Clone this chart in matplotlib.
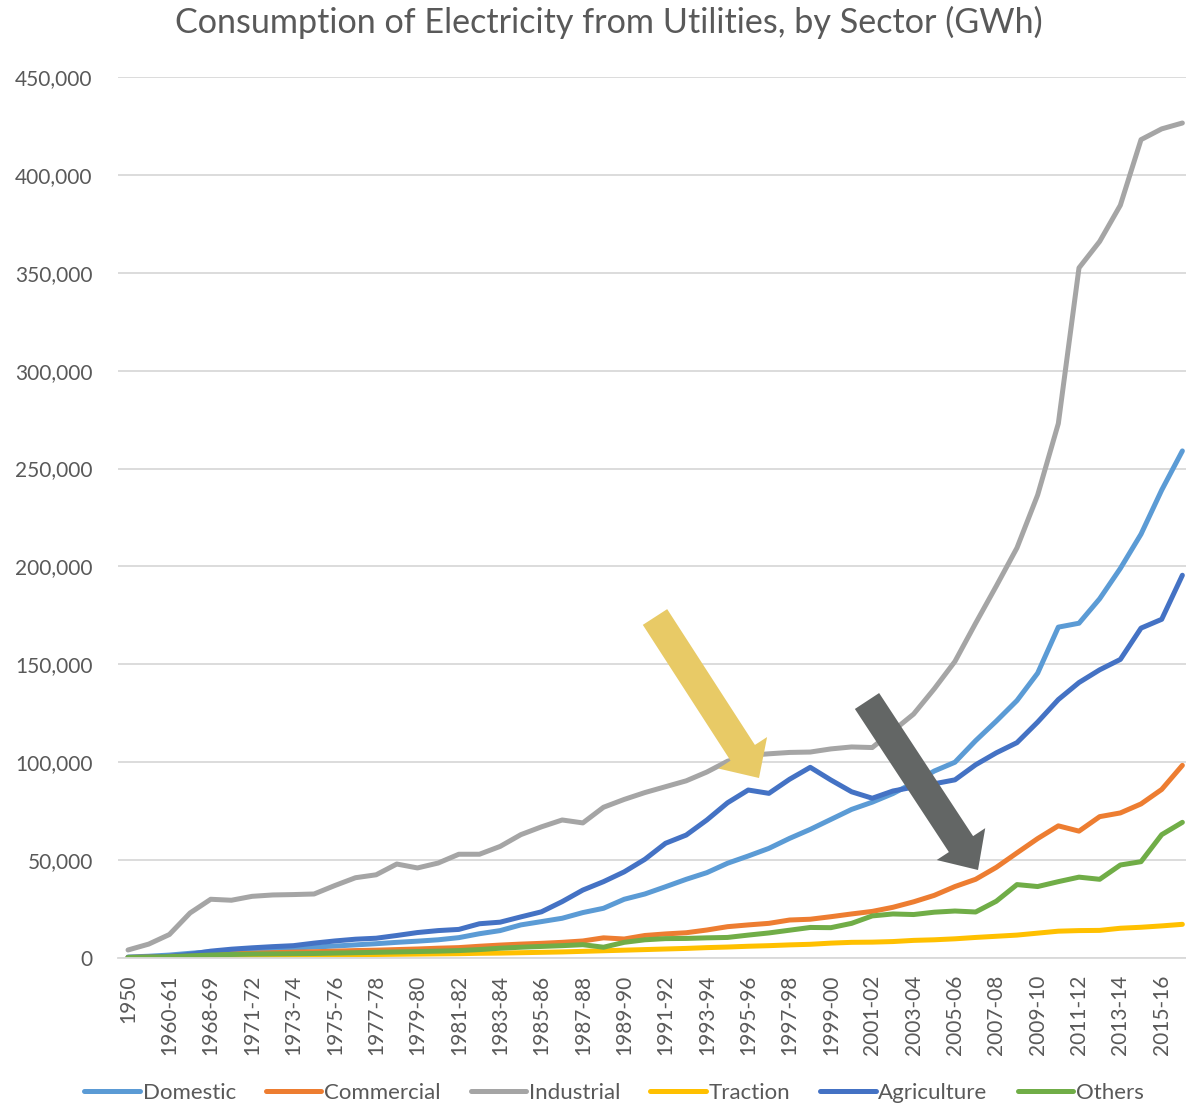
import matplotlib
matplotlib.use("Agg")
import matplotlib.pyplot as plt
from matplotlib.patches import Polygon
from matplotlib.ticker import FuncFormatter

years = ["1950", "1955", "1960-61", "1965-66", "1968-69", "1970-71"] + \
        [f"{y}-{str(y + 1)[-2:]}" for y in range(1971, 2017)]

domestic = [500, 900, 1500, 2400, 3200, 3800, 4300, 4700, 5100, 5600, 6100, 6700, 7300,
            8000, 8600, 9300, 10400, 12400, 14000, 16900, 18600, 20300, 23200, 25400,
            30000, 32700, 36400, 40200, 43600, 48400, 52100, 56000, 61100, 65700, 70800,
            75900, 79600, 84000, 89500, 95500, 100000, 111000, 121000, 131500, 145500,
            169000, 171000, 183500, 199000, 216500, 239000, 259000]
commercial = [250, 400, 800, 1300, 1700, 2100, 2400, 2700, 3000, 3200, 3500, 3800, 4000,
              4300, 4600, 5000, 5300, 6000, 6600, 7100, 7500, 8000, 8700, 10300, 9700,
              11500, 12300, 12900, 14300, 16000, 16900, 17700, 19400, 19800, 21100, 22500,
              23800, 25900, 28700, 32000, 36500, 40200, 46300, 53700, 61000, 67500, 64800,
              72200, 74100, 78700, 86100, 98400]
industrial = [4100, 7100, 12000, 23000, 30000, 29500, 31500, 32200, 32400, 32700, 37000,
              41000, 42500, 48000, 46000, 48500, 53000, 53000, 57000, 63000, 67000, 70500,
              69000, 77000, 81000, 84500, 87500, 90500, 95000, 100500, 103500, 104300,
              105000, 105200, 106800, 107800, 107500, 116000, 124600, 137500, 151500,
              171000, 190000, 209500, 236500, 273000, 352500, 366000, 384500, 418000,
              423500, 426500]
traction = [300, 400, 500, 700, 900, 1100, 1200, 1300, 1400, 1500, 1600, 1700, 1800, 1900,
            2000, 2100, 2200, 2400, 2500, 2700, 2900, 3100, 3400, 3700, 4000, 4300, 4600,
            4900, 5300, 5600, 6000, 6300, 6700, 7000, 7600, 8000, 8100, 8400, 9000, 9300,
            9800, 10500, 11100, 11700, 12700, 13700, 14000, 14100, 15200, 15700, 16400,
            17200]
agriculture = [300, 500, 850, 1900, 3500, 4500, 5200, 5800, 6300, 7600, 8700, 9600, 10100,
               11500, 13000, 14000, 14600, 17500, 18300, 21000, 23600, 28800, 34700, 39000,
               44000, 50400, 58600, 62800, 70500, 79300, 85800, 84100, 91300, 97400, 90900,
               84900, 81600, 85300, 87300, 89000, 91000, 98700, 104800, 110000, 120500,
               132000, 140700, 147200, 152500, 168500, 173000, 195500]
others = [200, 400, 700, 1100, 1500, 1800, 2000, 2100, 2200, 2300, 2500, 2700, 2900, 3100,
          3300, 3500, 3800, 4300, 5000, 5500, 5900, 6300, 6800, 5500, 8000, 9300, 9900,
          10000, 10300, 10500, 11700, 12800, 14200, 15600, 15500, 17700, 21500, 22500,
          22200, 23400, 24000, 23500, 29000, 37500, 36500, 39000, 41300, 40200, 47500,
          49200, 63000, 69300]

series = [("Domestic", domestic, "#5B9BD5"),
          ("Commercial", commercial, "#ED7D31"),
          ("Industrial", industrial, "#A5A5A5"),
          ("Traction", traction, "#FFC000"),
          ("Agriculture", agriculture, "#4472C4"),
          ("Others", others, "#70AD47")]

W, H = 1186, 1106
plt.rcParams['font.family'] = ['Lato', 'DejaVu Sans']
fig = plt.figure(figsize=(W / 100, H / 100), dpi=100)
ax = fig.add_axes([117.7 / W, 1 - 958 / H, 1075 / W, 881 / H])

x = list(range(len(years)))
for name, vals, col in series:
    ax.plot(x, vals, color=col, lw=3.6, label=name,
            solid_capstyle='round', solid_joinstyle='round')

ax.set_xlim(-0.5, len(years) - 0.5)
ax.set_ylim(0, 450000)
ax.set_yticks(range(0, 450001, 50000))
ax.yaxis.set_major_formatter(FuncFormatter(lambda v, p: f"{int(v):,}"))
ax.set_xticks(x[::2])
ax.set_xticklabels(years[::2], rotation=90, va='top', ha='center')
ax.grid(axis='y', color='#D9D9D9', lw=1.3)
ax.set_axisbelow(True)
for s in ['top', 'right', 'left']:
    ax.spines[s].set_visible(False)
ax.spines['bottom'].set_color('#D9D9D9')
ax.spines['bottom'].set_linewidth(1.3)
ax.tick_params(length=0, labelsize=15, colors='#595959')
ax.tick_params(axis='x', pad=12)
ax.tick_params(axis='y', pad=18)

fig.text(609 / W, 1 - 22 / H, "Consumption of Electricity from Utilities, by Sector (GWh)",
         ha='center', va='center', fontsize=24.6, color='#595959')

fig.legend(loc='center', bbox_to_anchor=(614 / W, 1 - 1093 / H), ncol=6, frameon=False,
           fontsize=16, handlelength=2.5, handletextpad=0.12, columnspacing=1.35,
           labelcolor='#595959')


# block arrows (pixel coords of tail, tip, widths)
def block_arrow(tail, tip, shaft_w, head_w, head_len, color):
    import math
    dx, dy = tip[0] - tail[0], tip[1] - tail[1]
    L = math.hypot(dx, dy)
    ux, uy = dx / L, dy / L
    px, py = -uy, ux
    bx, by = tip[0] - ux * head_len, tip[1] - uy * head_len
    pts = [(tail[0] + px * shaft_w / 2, tail[1] + py * shaft_w / 2),
           (bx + px * shaft_w / 2, by + py * shaft_w / 2),
           (bx + px * head_w / 2, by + py * head_w / 2),
           tip,
           (bx - px * head_w / 2, by - py * head_w / 2),
           (bx - px * shaft_w / 2, by - py * shaft_w / 2),
           (tail[0] - px * shaft_w / 2, tail[1] - py * shaft_w / 2)]
    pts = [(a / W, 1 - b / H) for a, b in pts]
    fig.add_artist(Polygon(pts, closed=True, facecolor=color, edgecolor='none',
                           transform=fig.transFigure, zorder=10))


block_arrow((655, 617), (759, 778), 29, 58, 30, "#E8CA66")
block_arrow((867, 701), (978, 870), 29, 58, 31, "#636665")

fig.savefig("out.png", dpi=100)
